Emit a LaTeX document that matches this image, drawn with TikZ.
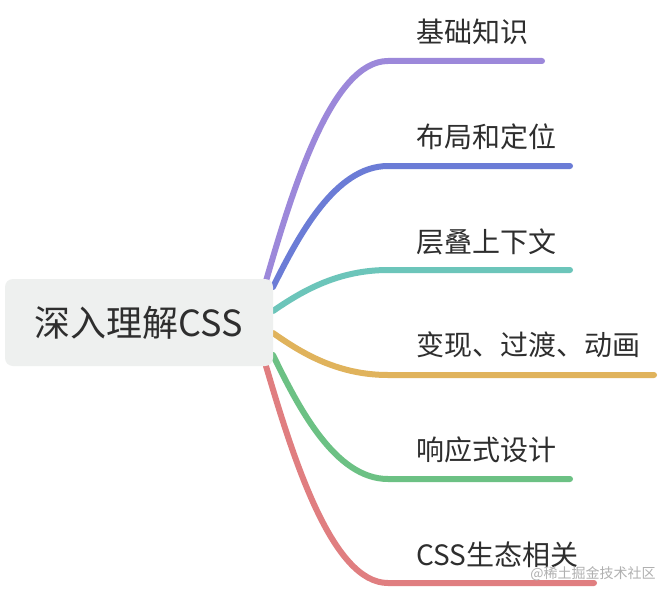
\documentclass[tikz,border=0pt]{standalone}
\usepackage{fontspec}
\setmainfont{Noto Sans CJK SC}
\usetikzlibrary{calc,backgrounds}
\definecolor{txt}{HTML}{2E2E2E}
\definecolor{rootbg}{HTML}{EEF0EF}
\definecolor{cpurple}{HTML}{9C88DA}
\definecolor{cblue}{HTML}{6B7CD6}
\definecolor{cteal}{HTML}{6CC5BA}
\definecolor{cgold}{HTML}{E0B35C}
\definecolor{cgreen}{HTML}{6CC184}
\definecolor{cred}{HTML}{E07E80}
\definecolor{wmark}{HTML}{B0B0B0}
\begin{document}
\begin{tikzpicture}[x=1pt,y=-1pt,
  branch/.style={line width=6pt, line cap=round},
  lbl/.style={anchor=west, inner sep=0pt, font=\fontsize{28}{28}\selectfont, text=txt},
  rootbox/.style={fill=rootbg, rounded corners=8pt, minimum width=268pt, minimum height=87pt,
    inner sep=0pt, font=\fontsize{36}{36}\selectfont, text=txt},
  wm/.style={inner sep=0pt, font=\fontsize{14}{14}\selectfont, text=wmark}]
\useasboundingbox (0,0) rectangle (660,588);
\node[rootbox] (root) at (139,322.5) {深入理解CSS};

\node[lbl] (l1) at (416,32)  {基础知识};
\node[lbl] (l2) at (416,137) {布局和定位};
\node[lbl] (l3) at (416,242) {层叠上下文};
\node[lbl] (l4) at (416,345) {变现、过渡、动画};
\node[lbl] (l5) at (416,450) {响应式设计};
\node[lbl] (l6) at (416,555) {CSS生态相关};

\coordinate (s1) at (266,281); \coordinate (h1) at (388,61);  \coordinate (t1) at (542,61);
\coordinate (s2) at (273,287); \coordinate (h2) at (388,166); \coordinate (t2) at (570,166);
\coordinate (s3) at (273,311); \coordinate (h3) at (388,270); \coordinate (t3) at (570,270);
\coordinate (s4) at (273,333); \coordinate (h4) at (388,375); \coordinate (t4) at (654,375);
\coordinate (s5) at (273,355); \coordinate (h5) at (388,479); \coordinate (t5) at (570,479);
\coordinate (s6) at (266,366); \coordinate (h6) at (388,583); \coordinate (t6) at (594,583);

\begin{scope}[on background layer]
\fill[white] (0,0) rectangle (660,588);
\draw[branch, cpurple] (s1) .. controls (292.8,188.6) and (331.9,61) .. (h1) -- (t1);
\draw[branch, cblue]   (s2) .. controls (298.3,236.2) and (335.1,166) .. (h2) -- (t2);
\draw[branch, cteal]   (s3) .. controls (298.3,293.8) and (335.1,270) .. (h3) -- (t3);
\draw[branch, cgold]   (s4) .. controls (298.3,350.6) and (335.1,375) .. (h4) -- (t4);
\draw[branch, cgreen]  (s5) .. controls (298.3,407.1) and (335.1,479) .. (h5) -- (t5);
\draw[branch, cred]    (s6) .. controls (292.8,457.1) and (331.9,583) .. (h6) -- (t6);
\end{scope}

\node[wm] (wmk) at (593,574) {@稀土掘金技术社区};
\end{tikzpicture}
\end{document}
